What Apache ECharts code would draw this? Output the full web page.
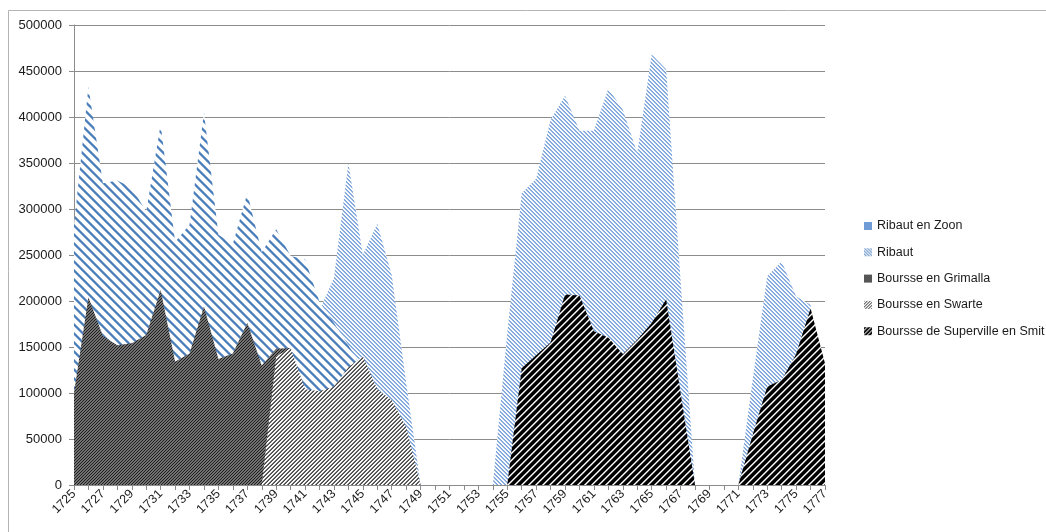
<!DOCTYPE html>
<html>
<head>
<meta charset="utf-8">
<script src="https://cdn.jsdelivr.net/npm/echarts@6/dist/echarts.min.js"></script>
<style>
  html, body { margin: 0; padding: 0; background: #fff; }
  #chart { width: 1046px; height: 532px; }
</style>
</head>
<body>
<div id="chart"></div>
<script>
// Years on the category axis
const years = [
  '1725','1726','1727','1728','1729','1730','1731','1732','1733','1734',
  '1735','1736','1737','1738','1739','1740','1741','1742','1743','1744',
  '1745','1746','1747','1748','1749','1750','1751','1752','1753','1754',
  '1755','1756','1757','1758','1759','1760','1761','1762','1763','1764',
  '1765','1766','1767','1768','1769','1770','1771','1772','1773','1774',
  '1775','1776','1777'
];

// Values per firm, one entry per year
const ribautEnZoon = [
  0, 0, 0, 0, 0, 0, 0, 0, 0, 0,
  0, 0, 0, 0, 0, 0, 0, 190000, 225000, 350000,
  250000, 284000, 228000, 111000, 0, 0, 0, 0, 0, 0,
  165000, 317000, 333000, 397000, 423000, 385000, 385000, 431000, 408000, 361000,
  468000, 452000, 222000, 0, 0, 0, 0, 115000, 227000, 243000,
  205000, 196000, 0
];
const ribaut = [
  282000, 433000, 328000, 331000, 323000, 297000, 392000, 264000, 283000, 405000,
  272000, 262000, 317000, 253000, 278000, 249000, 245000, 199000, 176000, 152000,
  125000, 80000, 0, 0, 0, 0, 0, 0, 0, 0,
  0, 0, 0, 0, 0, 0, 0, 0, 0, 0,
  0, 0, 0, 0, 0, 0, 0, 0, 0, 0,
  0, 0, 0
];
const grimalla = [
  100000, 204000, 162000, 152000, 154000, 163000, 212000, 134000, 143000, 194000,
  137000, 143000, 176000, 130000, 148000, 149000, 0, 0, 0, 0,
  0, 0, 0, 0, 0, 0, 0, 0, 0, 0,
  0, 0, 0, 0, 0, 0, 0, 0, 0, 0,
  0, 0, 0, 0, 0, 0, 0, 0, 0, 0,
  0, 0, 0
];
const swarte = [
  0, 0, 0, 0, 0, 0, 0, 0, 0, 0,
  0, 0, 0, 0, 140000, 149000, 104000, 102000, 107000, 128000,
  140000, 104000, 92000, 63000, 0, 0, 0, 0, 0, 0,
  0, 0, 0, 0, 0, 0, 0, 0, 0, 0,
  0, 0, 0, 0, 0, 0, 0, 0, 0, 0,
  0, 0, 0
];
const superville = [
  0, 0, 0, 0, 0, 0, 0, 0, 0, 0,
  0, 0, 0, 0, 0, 0, 0, 0, 0, 0,
  0, 0, 0, 0, 0, 0, 0, 0, 0, 0,
  0, 127000, 141000, 155000, 207000, 206000, 167000, 160000, 142000, 158000,
  176000, 202000, 100000, 0, 0, 0, 0, 55000, 107000, 114000,
  142000, 192000, 132000
];

const seriesNames = [
  'Ribaut en Zoon', 'Ribaut', 'Boursse en Grimalla',
  'Boursse en Swarte', 'Boursse de Superville en Smit'
];

// Hatch tile: diagonal stripes, anti-aliased by supersampling.
// dir '\\' runs down to the right, '/' runs up to the right.
function hatch(period, width, dir, fg, bg) {
  const c = document.createElement('canvas');
  c.width = period; c.height = period;
  const ctx = c.getContext('2d');
  const img = ctx.createImageData(period, period);
  const n = 4;
  for (let y = 0; y < period; y++) {
    for (let x = 0; x < period; x++) {
      let hit = 0;
      for (let i = 0; i < n; i++) {
        for (let j = 0; j < n; j++) {
          const sx = x + (i + 0.5) / n, sy = y + (j + 0.5) / n;
          const t = dir === '\\' ? sx - sy : sx + sy;
          const m = ((t % period) + period) % period;
          if (m < width) hit++;
        }
      }
      const a = hit / (n * n);
      const k = (y * period + x) * 4;
      img.data[k] = Math.round(fg[0] * a + bg[0] * (1 - a));
      img.data[k + 1] = Math.round(fg[1] * a + bg[1] * (1 - a));
      img.data[k + 2] = Math.round(fg[2] * a + bg[2] * (1 - a));
      img.data[k + 3] = 255;
    }
  }
  ctx.putImageData(img, 0, 0);
  return { image: c, repeat: 'repeat' };
}

const WHITE = [255, 255, 255];
const BLUE = [74, 126, 187];
const LBLUE = [92, 141, 208];
const DARK = [30, 30, 30];
const BLACK = [0, 0, 0];

const fills = [
  hatch(4, 1.5, '\\', LBLUE, WHITE),   // Ribaut en Zoon
  hatch(9, 3.2, '\\', BLUE, WHITE),    // Ribaut
  hatch(3, 2.1, '/', DARK, WHITE),     // Boursse en Grimalla
  hatch(4, 1.5, '/', DARK, WHITE),     // Boursse en Swarte
  hatch(7, 4.8, '/', BLACK, WHITE)     // Boursse de Superville en Smit
];
const icons = [
  '#6f9bd6',
  hatch(3, 1.1, '\\', BLUE, WHITE),
  hatch(2, 1.3, '/', DARK, WHITE),
  hatch(3, 1.0, '/', DARK, WHITE),
  hatch(4, 2.7, '/', BLACK, WHITE)
];
const solid = ['#6f9bd6', '#4a7ebb', '#1e1e1e', '#555555', '#000000'];
const values = [ribautEnZoon, ribaut, grimalla, swarte, superville];

const FONT = 'Liberation Sans';
const GRID = '#8c8c8c';

const chart = echarts.init(document.getElementById('chart'), null, { renderer: 'canvas' });
chart.setOption({
  animation: false,
  backgroundColor: '#ffffff',
  graphic: [{
    type: 'rect',
    shape: { x: 8.5, y: 10.5, width: 1050, height: 540 },
    style: { fill: 'none', stroke: '#b4b4b4', lineWidth: 1 },
    silent: true, z: -10
  }],
  grid: { left: 74, right: 221, top: 25, bottom: 47, containLabel: false },
  legend: {
    orient: 'vertical',
    left: 859,
    top: 213,
    icon: 'rect',
    itemWidth: 8,
    itemHeight: 8,
    itemGap: 10.3,
    textStyle: { fontFamily: FONT, fontSize: 12.5, color: '#1a1a1a', lineHeight: 16 },
    data: seriesNames.map((n, i) => ({ name: n, itemStyle: { color: icons[i], borderWidth: 0 } }))
  },
  xAxis: {
    type: 'category',
    data: years,
    boundaryGap: false,
    axisLine: { lineStyle: { color: GRID, width: 1 } },
    axisTick: { show: true, interval: 0, length: 5, lineStyle: { color: GRID } },
    axisLabel: {
      interval: 1, rotate: 45, margin: 7,
      fontFamily: FONT, fontSize: 12.5, color: '#1a1a1a'
    },
    splitLine: { show: false }
  },
  yAxis: {
    type: 'value',
    min: 0, max: 500000, interval: 50000,
    axisLine: { show: true, lineStyle: { color: GRID, width: 1 } },
    axisTick: { show: true, length: 5, lineStyle: { color: GRID } },
    axisLabel: {
      margin: 12, fontFamily: FONT, fontSize: 13, color: '#1a1a1a',
      formatter: v => String(v)
    },
    splitLine: { show: true, lineStyle: { color: GRID, width: 1 } }
  },
  series: seriesNames.map((n, i) => ({
    name: n,
    type: 'line',
    data: values[i],
    showSymbol: false,
    symbol: 'none',
    lineStyle: { width: 0, opacity: 0 },
    itemStyle: { color: solid[i] },
    areaStyle: { color: fills[i], opacity: 1 },
    emphasis: { disabled: true },
    z: 2 + i
  }))
});
</script>
</body>
</html>
